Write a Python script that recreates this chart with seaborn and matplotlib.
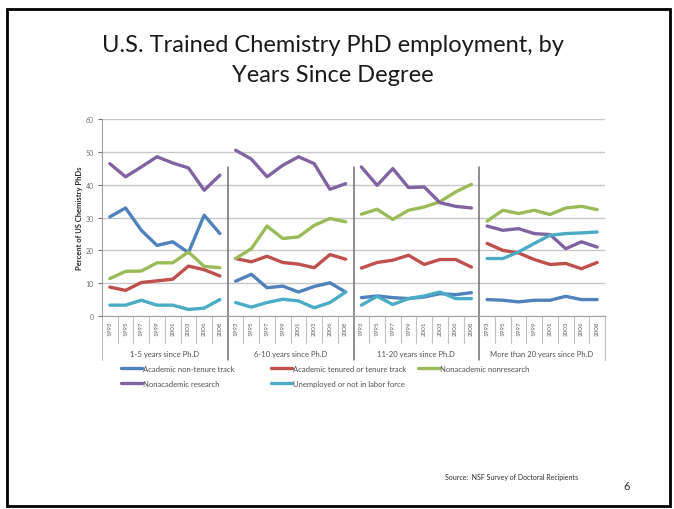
# U.S. trained chemistry PhD employment by years since degree

import pandas as pd
import matplotlib.pyplot as plt
import seaborn as sns
from matplotlib.patches import Rectangle

years = ["1993", "1995", "1997", "1999", "2001", "2003", "2006", "2008"]
groups = ["1-5 years since Ph.D", "6-10 years since Ph.D",
          "11-20 years since Ph.D", "More than 20 years since Ph.D"]
series = ["Academic non-tenure track", "Academic tenured or tenure track",
          "Nonacademic nonresearch", "Nonacademic research",
          "Unemployed or not in labor force"]

# one list per series, 8 years per group, groups in order
non_tenure = [30.2, 32.9, 26.1, 21.5, 22.6, 19.3, 30.7, 25.1,
              10.6, 12.7, 8.6, 9.1, 7.3, 9.0, 10.1, 7.3,
              5.6, 6.1, 5.6, 5.3, 5.8, 6.8, 6.5, 7.1,
              5.0, 4.8, 4.3, 4.8, 4.8, 6.0, 5.0, 5.0]
tenured = [8.8, 7.8, 10.2, 10.7, 11.2, 15.2, 14.1, 12.2,
           17.5, 16.5, 18.2, 16.3, 15.8, 14.7, 18.7, 17.3,
           14.6, 16.3, 17.0, 18.5, 15.7, 17.2, 17.2, 14.9,
           22.1, 20.0, 19.2, 17.2, 15.7, 16.0, 14.4, 16.3]
nonresearch = [11.4, 13.6, 13.7, 16.2, 16.2, 19.5, 15.1, 14.7,
               17.5, 20.5, 27.4, 23.6, 24.1, 27.6, 29.7, 28.7,
               31.0, 32.5, 29.4, 32.2, 33.2, 34.8, 37.8, 40.1,
               28.9, 32.2, 31.2, 32.2, 30.9, 32.9, 33.4, 32.4]
research = [46.4, 42.4, 45.4, 48.5, 46.6, 45.1, 38.3, 42.9,
            50.5, 47.8, 42.4, 45.9, 48.5, 46.4, 38.6, 40.3,
            45.4, 39.8, 44.9, 39.1, 39.3, 34.5, 33.4, 32.9,
            27.4, 26.1, 26.6, 25.1, 24.8, 20.5, 22.6, 21.0]
unemployed = [3.3, 3.3, 4.8, 3.3, 3.3, 2.0, 2.4, 5.0,
              4.1, 2.7, 4.1, 5.1, 4.6, 2.5, 4.1, 7.3,
              3.3, 6.0, 3.5, 5.3, 6.1, 7.3, 5.3, 5.3,
              17.5, 17.5, 19.5, 22.1, 24.6, 25.1, 25.3, 25.6]

colors = ["#4F81BD", "#C0504D", "#9BBB59", "#8064A2", "#4BACC6"]

rows = []
for name, vals in zip(series, [non_tenure, tenured, nonresearch, research, unemployed]):
    for i, v in enumerate(vals):
        rows.append({"series": name, "group": groups[i // 8],
                     "year": years[i % 8], "pos": i, "value": v})
df = pd.DataFrame(rows)

sns.set_style("white")
plt.rcParams["font.family"] = ["Lato", "DejaVu Sans"]

fig = plt.figure(figsize=(6.74, 5.10), dpi=100)
ax = fig.add_axes([102 / 674, 1 - 317 / 510, 503 / 674, 197 / 510])

sns.lineplot(data=df, x="pos", y="value", hue="series", units="group",
             estimator=None, palette=colors, linewidth=2.4, ax=ax,
             legend=True)

ax.set_xlim(-0.5, len(groups) * len(years) - 0.5)
ax.set_ylim(0, 60)
ax.set_yticks(range(0, 61, 10))
ax.yaxis.grid(True, color="#c8c8c8", linewidth=1)
ax.set_axisbelow(True)
for s in ["top", "right"]:
    ax.spines[s].set_visible(False)
ax.spines["left"].set_color("#a0a0a0")
ax.spines["bottom"].set_color("#a0a0a0")
ax.tick_params(axis="y", labelsize=5, colors="#707070", length=3,
               width=0.8, left=True, pad=3)
ax.set_ylabel("Percent of US Chemistry PhDs", fontsize=5.5,
              fontweight="bold", labelpad=2)
ax.set_xlabel("")

ax.set_xticks(df["pos"].unique())
ax.set_xticklabels([years[i % 8] for i in df["pos"].unique()],
                   rotation=90, fontsize=4.5, color="#606060")
ax.tick_params(axis="x", length=0, pad=3)

# category / group boundary lines under the axis
n = len(years)
last = len(groups) * n
for k in range(last + 1):
    x = k - 0.5
    if k % n == 0:
        inner = 0 < k < last
        ax.plot([x, x], [45.5 if inner else 0, -13.5],
                color="#707070" if inner else "#c0c0c0",
                lw=1.1 if inner else 0.8, clip_on=False)
    else:
        ax.plot([x, x], [0, -8.2], color="#c0c0c0", lw=0.8, clip_on=False)

for g, name in enumerate(groups):
    ax.text(g * n + (n - 1) / 2, -11.4, name, ha="center", va="center",
            fontsize=5.5, color="#505050")

# legend: three columns placed like the original
handles, labels = ax.get_legend_handles_labels()
ax.get_legend().remove()
columns = [([0, 3], 121), ([1, 4], 271), ([2], 418)]
for idx, xpx in columns:
    leg = fig.legend([handles[i] for i in idx], [labels[i] for i in idx],
                     loc="upper left", bbox_to_anchor=(xpx / 674, 1 - 366 / 510),
                     frameon=False, fontsize=5.5, handlelength=2.8,
                     handletextpad=0.1, labelspacing=1.0,
                     borderaxespad=0, borderpad=0)
    for t in leg.get_texts():
        t.set_color("#505050")

fig.text(333 / 674, 1 - 45 / 510, "U.S. Trained Chemistry PhD employment, by",
         ha="center", va="center", fontsize=17, color="#1a1a1a")
fig.text(333 / 674, 1 - 75 / 510, "Years Since Degree",
         ha="center", va="center", fontsize=17, color="#1a1a1a")
fig.text(445 / 674, 1 - 478 / 510, "Source:  NSF Survey of Doctoral Recipients",
         ha="left", va="center", fontsize=5, color="#303030")
fig.text(627 / 674, 1 - 487 / 510, "6", ha="center", va="center",
         fontsize=8, color="#303030")

fig.patches.append(Rectangle((7 / 674, 3 / 510), 663 / 674, 497 / 510,
                             transform=fig.transFigure, fill=False,
                             edgecolor="black", linewidth=2))

plt.savefig("out.png", dpi=100)
